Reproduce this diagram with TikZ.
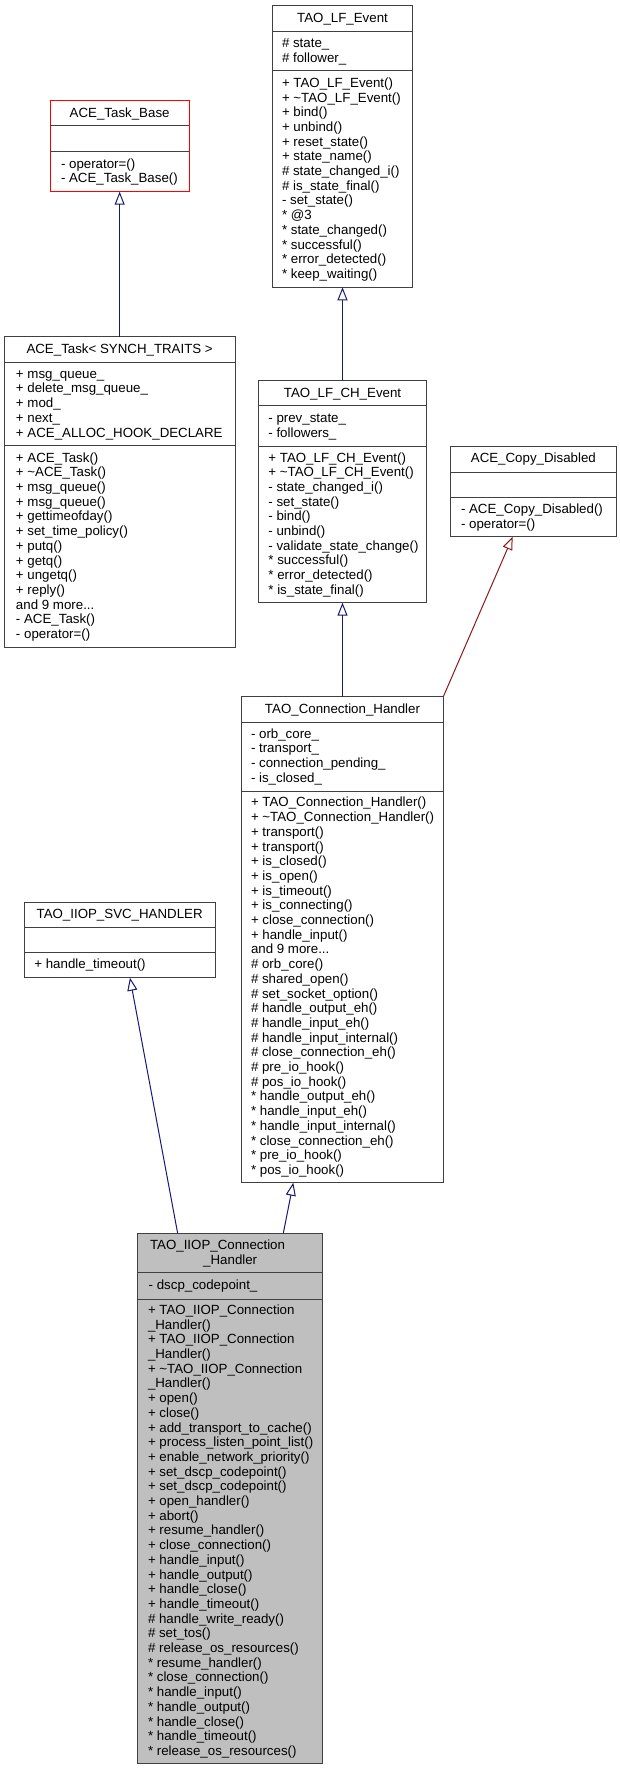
\documentclass[tikz,border=0pt]{standalone}
\usepackage{fontspec}
\setmainfont{Liberation Sans}
\usetikzlibrary{arrows.meta,calc}
\definecolor{edgeblue}{HTML}{191970}
\definecolor{edgered}{HTML}{8B1A1A}
\definecolor{boxgray}{HTML}{404040}
\definecolor{fillgray}{HTML}{BFBFBF}
\tikzset{
  umlbox/.style={draw=boxgray, line width=1pt, inner sep=0pt, outer sep=0pt, anchor=north west, fill=white},
  sepline/.style={draw=boxgray, line width=1pt},
  txt/.style={inner sep=0pt, outer sep=0pt, font=\fontsize{13.3}{14.7}\selectfont, text=black},
  inh/.style={draw=edgeblue, line width=1pt, -{Triangle[open, length=13pt, width=10pt]}},
  priv/.style={draw=edgered, line width=1pt, -{Triangle[open, length=13pt, width=10pt]}},
}
\newcommand{\mdots}{...}
\newcommand{\umlclass}[8][]{%
  \node[umlbox, #1, minimum width={(#5-#3)*1pt}, minimum height={(#8-#4)*1pt}] (#2) at (#3,#4) {};
  \draw[sepline] (#3,#6) -- (#5,#6);
  \draw[sepline] (#3,#7) -- (#5,#7);
}
\newcommand{\umllines}[4]{%
  \foreach \lntxt [count=\i] in {#4} {\node[txt, anchor=base west] (#1\i) at ({#2}, {#3+(\i-1)*14.7}) {\lntxt};}
}
\begin{document}
\begin{tikzpicture}[x=1pt, y=-1pt]
\useasboundingbox (0,0) rectangle (619,1771);
\fill[white] (0,0) rectangle (619,1771);

% ACE_Task_Base
\umlclass[draw=red]{tb}{50}{101}{189.3}{126}{151.7}{191.7}
\node[txt, anchor=base] (tbt) at (119.65,117.3) {ACE\_Task\_Base};
\umllines{tbm}{61}{168.15}{- operator=(),- ACE\_Task\_Base()}

% TAO_LF_Event
\umlclass{lf}{272.3}{5.7}{412.7}{31.7}{71}{287.3}
\node[txt, anchor=base] (lft) at (342.5,22.5) {TAO\_LF\_Event};
\umllines{lfa}{282}{47.8}{\# state\_,\# follower\_}
\umllines{lfm}{282}{87.4}{+ TAO\_LF\_Event(),+ \textasciitilde TAO\_LF\_Event(),+ bind(),+ unbind(),+ reset\_state(),+ state\_name(),\# state\_changed\_i(),\# is\_state\_final(),- set\_state(),* @3,* state\_changed(),* successful(),* error\_detected(),* keep\_waiting()}

% ACE_Task
\umlclass{at}{4.3}{336.7}{235}{362}{445.7}{647.3}
\node[txt, anchor=base] (att) at (119.65,353.15) {ACE\_Task< SYNCH\_TRAITS >};
\umllines{ata}{16}{378.25}{+ msg\_queue\_,+ delete\_msg\_queue\_,+ mod\_,+ next\_,+ ACE\_ALLOC\_HOOK\_DECLARE}
\umllines{atm}{16}{462.1}{+ ACE\_Task(),+ \textasciitilde ACE\_Task(),+ msg\_queue(),+ msg\_queue(),+ gettimeofday(),+ set\_time\_policy(),+ putq(),+ getq(),+ ungetq(),+ reply(),and 9 more\mdots,- ACE\_Task(),- operator=()}

% TAO_LF_CH_Event
\umlclass{lfch}{258.3}{380.7}{426.7}{405.7}{446}{602.7}
\node[txt, anchor=base] (lfcht) at (342.5,397) {TAO\_LF\_CH\_Event};
\umllines{lfcha}{268.4}{422.3}{- prev\_state\_,- followers\_}
\umllines{lfchm}{268.4}{462}{+ TAO\_LF\_CH\_Event(),+ \textasciitilde TAO\_LF\_CH\_Event(),- state\_changed\_i(),- set\_state(),- bind(),- unbind(),- validate\_state\_change(),* successful(),* error\_detected(),* is\_state\_final()}

% ACE_Copy_Disabled
\umlclass{cd}{450.7}{446}{616}{472.3}{497.3}{536.7}
\node[txt, anchor=base] (cdt) at (533.35,462.95) {ACE\_Copy\_Disabled};
\umllines{cdm}{461}{513.45}{- ACE\_Copy\_Disabled(),- operator=()}

% TAO_Connection_Handler
\umlclass{ch}{241.7}{696.7}{443.3}{722}{791}{1182.7}
\node[txt, anchor=base] (cht) at (342.5,713.15) {TAO\_Connection\_Handler};
\umllines{cha}{251}{738.25}{- orb\_core\_,- transport\_,- connection\_pending\_,- is\_closed\_}
\umllines{chm}{251}{806.9}{+ TAO\_Connection\_Handler(),+ \textasciitilde TAO\_Connection\_Handler(),+ transport(),+ transport(),+ is\_closed(),+ is\_open(),+ is\_timeout(),+ is\_connecting(),+ close\_connection(),+ handle\_input(),and 9 more\mdots,\# orb\_core(),\# shared\_open(),\# set\_socket\_option(),\# handle\_output\_eh(),\# handle\_input\_eh(),\# handle\_input\_internal(),\# close\_connection\_eh(),\# pre\_io\_hook(),\# pos\_io\_hook(),* handle\_output\_eh(),* handle\_input\_eh(),* handle\_input\_internal(),* close\_connection\_eh(),* pre\_io\_hook(),* pos\_io\_hook()}

% TAO_IIOP_SVC_HANDLER
\umlclass{svc}{24.3}{902.7}{215}{927.3}{952.3}{977.7}
\node[txt, anchor=base] (svct) at (119.65,918.8) {TAO\_IIOP\_SVC\_HANDLER};
\umllines{svcm}{34.4}{968.8}{+ handle\_timeout()}

% TAO_IIOP_Connection_Handler
\umlclass[fill=fillgray]{iiop}{137.7}{1233.3}{322.7}{1272.7}{1299}{1763.3}
\node[txt, anchor=base west] (iiopt1) at (150,1249.45) {TAO\_IIOP\_Connection};
\node[txt, anchor=base] (iiopt2) at (230.2,1264.15) {\_Handler};
\umllines{iiopa}{148.7}{1289.65}{- dscp\_codepoint\_}
\umllines{iiopm}{148}{1314.45}{+ TAO\_IIOP\_Connection,\_Handler(),+ TAO\_IIOP\_Connection,\_Handler(),+ \textasciitilde TAO\_IIOP\_Connection,\_Handler(),+ open(),+ close(),+ add\_transport\_to\_cache(),+ process\_listen\_point\_list(),+ enable\_network\_priority(),+ set\_dscp\_codepoint(),+ set\_dscp\_codepoint(),+ open\_handler(),+ abort(),+ resume\_handler(),+ close\_connection(),+ handle\_input(),+ handle\_output(),+ handle\_close(),+ handle\_timeout(),\# handle\_write\_ready(),\# set\_tos(),\# release\_os\_resources(),* resume\_handler(),* close\_connection(),* handle\_input(),* handle\_output(),* handle\_close(),* handle\_timeout(),* release\_os\_resources()}

% Inheritance edges
\draw[inh] (at.north) -- (tb.south);
\draw[inh] (lfch.north) -- (lf.south);
\draw[inh] (ch.north) -- (lfch.south);
\draw[priv] (ch.north east) -- ($(cd.south west)!0.375!(cd.south east)$);
\draw[inh] ($(iiop.north west)!0.216!(iiop.north east)$) -- ($(svc.south west)!0.554!(svc.south east)$);
\draw[inh] ($(iiop.north west)!0.787!(iiop.north east)$) -- ($(ch.south west)!0.256!(ch.south east)$);
\end{tikzpicture}
\end{document}
